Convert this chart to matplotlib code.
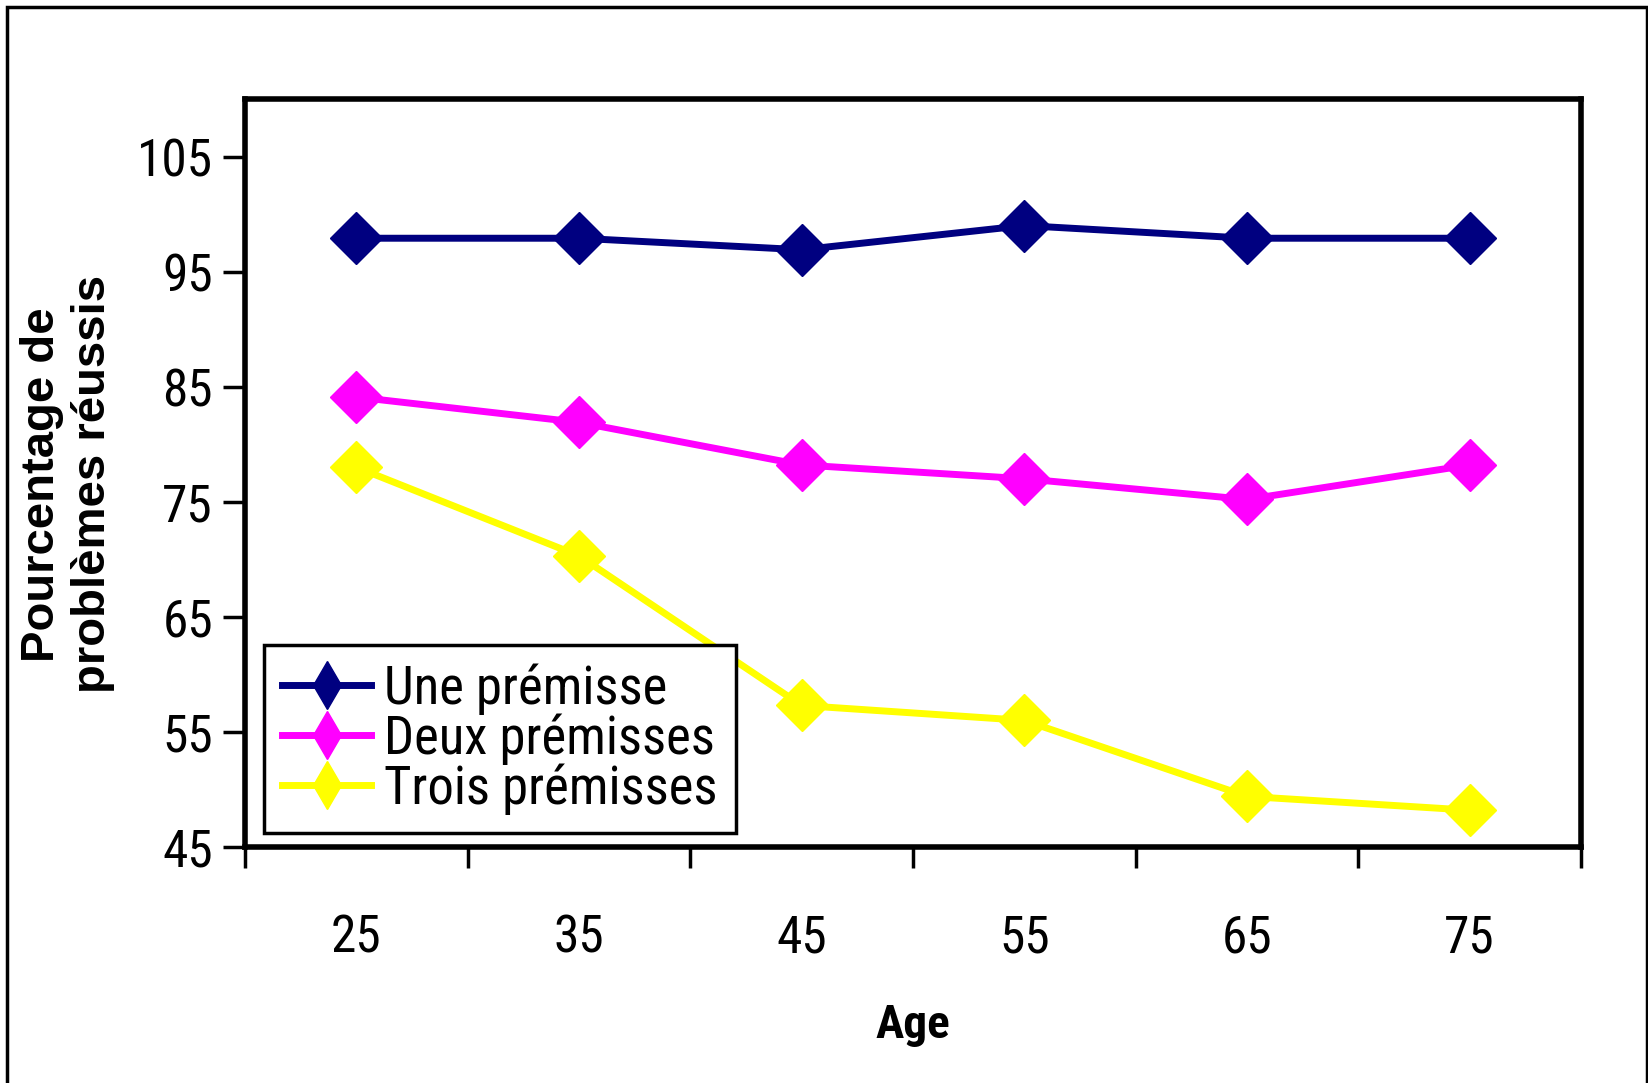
import numpy as np
import matplotlib
matplotlib.use("Agg")
import matplotlib.pyplot as plt
from matplotlib.lines import Line2D
from matplotlib.patches import Rectangle
from matplotlib import font_manager

# Pourcentage de problèmes réussis selon l'âge et le nombre de prémisses
ages = ['25', '35', '45', '55', '65', '75']
une = [97.9, 97.9, 96.9, 99.0, 97.9, 97.9]
deux = [84.1, 81.9, 78.2, 77.0, 75.2, 78.2]
trois = [78.0, 70.3, 57.3, 56.0, 49.4, 48.2]

series_names = ['Une prémisse', 'Deux prémisses', 'Trois prémisses']
series_colors = ['#000080', '#FF00FF', '#FFFF00']

# pick a narrow face if one is installed, else plain Liberation Sans
installed = {f.name for f in font_manager.fontManager.ttflist}
narrow = [f for f in ['Roboto Condensed', 'Liberation Sans Narrow', 'Open Sans Condensed',
                      'Arial Narrow', 'DejaVu Sans Condensed'] if f in installed]
has_narrow = len(narrow) > 0
narrow = narrow[:1] + ['Liberation Sans', 'DejaVu Sans']
plain = ['Liberation Sans', 'DejaVu Sans']

tick_size = 37 if has_narrow else 34
leg_size = 38 if has_narrow else 33

fig = plt.figure(figsize=(16.49, 10.83), dpi=100)
ax = fig.add_axes([0.1486, 0.2179, 0.9588 - 0.1486, 0.9086 - 0.2179])

x = np.arange(len(ages))
for vals, col in zip([une, deux, trois], series_colors):
    ax.plot(x, vals, color=col, lw=5, marker='D', ms=26, mfc=col, mec=col,
            mew=1, clip_on=False)

ax.set_xlim(-0.5, len(ages) - 0.5)
ax.set_ylim(45, 110)

# y axis
ax.set_yticks(np.arange(45, 106, 10))
ax.tick_params(axis='y', which='major', direction='out', length=16, width=2.5, pad=7)
for t in ax.get_yticklabels():
    t.set_fontfamily(narrow)
    t.set_fontsize(tick_size)

# x axis: ticks between categories, labels centred on categories
ax.set_xticks(np.arange(-0.5, len(ages), 1))
ax.set_xticklabels([])
ax.set_xticks(x, minor=True)
ax.set_xticklabels(ages, minor=True, fontfamily=narrow, fontsize=tick_size)
ax.tick_params(axis='x', which='major', direction='out', length=15, width=2.5)
ax.tick_params(axis='x', which='minor', length=0, pad=48)

for s in ax.spines.values():
    s.set_linewidth(4)

ax.set_xlabel('Age', fontfamily=narrow, fontsize=34, fontweight='bold', labelpad=28)
ax.set_ylabel('Pourcentage de\nproblèmes réussis', fontfamily=plain, fontsize=34,
              fontweight='bold', labelpad=16, linespacing=1.2)
ax.yaxis.label.set_y(0.485)

handles = [Line2D([], [], color=c, lw=5, marker='d', ms=24, mfc=c, mec=c)
           for c in series_colors]
leg = ax.legend(handles, series_names, loc='lower left',
                bbox_to_anchor=(0.0142, 0.0187), prop={'family': narrow, 'size': leg_size},
                frameon=True, fancybox=False, edgecolor='black', framealpha=1,
                handlelength=1.68, handletextpad=0.25, labelspacing=-0.03,
                borderpad=0.35, borderaxespad=0)
leg.get_frame().set_linewidth(2.5)

# outer frame round the whole chart
fig.patches.append(Rectangle((7 / 1649, -0.05), 1640 / 1649, 1 - 7 / 1083 + 0.05,
                             transform=fig.transFigure, fill=False,
                             edgecolor='black', lw=2.5))

fig.savefig('out.png', dpi=100)
